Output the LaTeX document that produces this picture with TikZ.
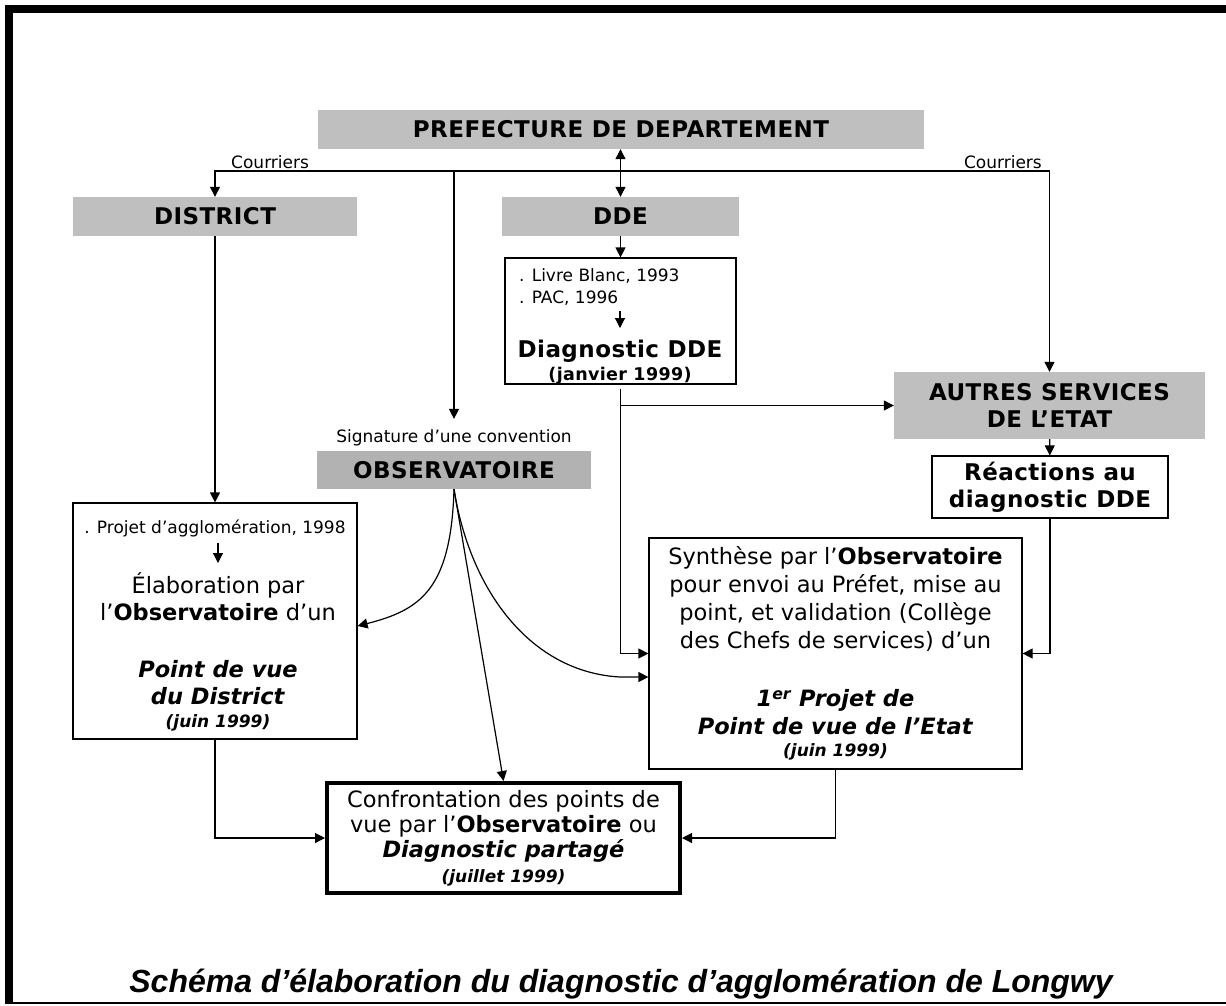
\documentclass[tikz,border=0pt]{standalone}
\usepackage{fontspec}
\setmainfont{DejaVu Sans}
\newfontfamily\headfont{DejaVu Sans}[LetterSpace=2]
\newfontfamily\titlefont{Liberation Sans}
\usetikzlibrary{arrows.meta}
\newcommand{\boxcolor}{gray!50}
\newcommand{\obscolor}{gray!60}
\newcommand{\thickness}{1.2pt}
\tikzset{
  arr/.style={-{Triangle[length=10pt,width=10pt]}, line width=\thickness},
  darr/.style={{Triangle[length=10pt,width=10pt]}-{Triangle[length=10pt,width=10pt]}, line width=\thickness},
  headbox/.style={fill=\boxcolor, inner sep=0pt, align=center, font=\headfont\fontsize{23}{27}\selectfont\bfseries},
  textbox/.style={draw, line width=\thickness, inner sep=0pt, align=center},
  smalltext/.style={inner sep=0pt, font=\fontsize{17}{22}\selectfont}
}

\begin{document}
\begin{tikzpicture}[x=1pt, y=-1pt]
\useasboundingbox (0,0) rectangle (1226,1005);
% cadre
\fill (5,5) rectangle (1226,13);
\fill (5,5) rectangle (13,1004);
\draw[line width=2pt] (5,1003) -- (1226,1003);
% en-tetes
\node[headbox] (pref) at (621, 129.5) [minimum width=606pt, minimum height=39pt] {PREFECTURE DE DEPARTEMENT};
\node[headbox] (district) at (215, 216.5) [minimum width=284pt, minimum height=39pt] {DISTRICT};
\node[headbox] (dde) at (620.5, 216.5) [minimum width=237pt, minimum height=39pt] {DDE};
\node[headbox, fill=\obscolor] (obs) at (454, 470) [minimum width=274pt, minimum height=38pt] {OBSERVATOIRE};
\node[headbox] (autres) at (1049.5, 405.5) [minimum width=311pt, minimum height=67pt] {AUTRES SERVICES\\DE L’ETAT};
\node[smalltext, anchor=base west] (courg) at (231, 168) {Courriers};
\node[smalltext, anchor=base east] (courd) at (1042, 168) {Courriers};
\node[smalltext, anchor=base] (sig) at (454, 442) {Signature d’une convention};
% DDE
\node[textbox] (livre) at (620.5, 321) [minimum width=231pt, minimum height=126pt] {};
\node[smalltext, anchor=north west, align=left] (livrelist) at (519, 268) {. Livre Blanc, 1993\\. PAC, 1996};
\node[inner sep=0pt, anchor=north, align=center, font=\headfont\fontsize{23}{23}\selectfont\bfseries] (diagdde) at (620, 340) {Diagnostic DDE\\{\fontsize{17.5}{23}\selectfont (janvier 1999)}};
\node[textbox, font=\headfont\fontsize{23}{27}\selectfont\bfseries] (reac) at (1050, 487) [minimum width=236pt, minimum height=62pt] {Réactions au\\diagnostic DDE};
% District
\node[textbox] (projet) at (215, 621) [minimum width=284pt, minimum height=236pt] {};
\node[smalltext, anchor=base] (projlist) at (215, 533) {. Projet d’agglomération, 1998};
\node[inner sep=0pt, anchor=north, align=center, font=\fontsize{22.5}{27}\selectfont] (projtext) at (218, 572) {Élaboration par\\l’\textbf{Observatoire} d’un\\[30pt]\textbf{\itshape Point de vue}\\\textbf{\itshape du District}\\[-4pt]{\fontsize{17}{27}\selectfont\bfseries\itshape (juin 1999)}};
% Etat
\node[textbox, font=\fontsize{22.5}{28}\selectfont] (synth) at (835.5, 653.5) [minimum width=373pt, minimum height=231pt] {Synthèse par l’\textbf{Observatoire}\\pour envoi au Préfet, mise au\\point, et validation (Collège\\des Chefs de services) d’un\\[30pt]\textbf{\itshape 1\textsuperscript{er} Projet de}\\\textbf{\itshape Point de vue de l’Etat}\\[-6pt]{\fontsize{17}{28}\selectfont\bfseries\itshape (juin 1999)}};
% confrontation
\node[textbox, line width=4pt, font=\fontsize{22.5}{25}\selectfont] (conf) at (503.5, 838) [minimum width=353pt, minimum height=110pt] {Confrontation des points de\\vue par l’\textbf{Observatoire} ou\\\textbf{\itshape Diagnostic partagé}\\{\fontsize{17}{25}\selectfont\bfseries\itshape (juillet 1999)}};
\node[inner sep=0pt, anchor=base, font=\titlefont\fontsize{32}{36}\selectfont\bfseries\itshape] (titre) at (621, 992) {Schéma d’élaboration du diagnostic d’agglomération de Longwy};
% liaisons
\coordinate (hub) at (620.5, 171);
\draw[arr] (hub) -| (district.north);
\draw[arr] (hub) -| (autres.north);
\draw[arr, shorten >=10pt] (hub -| obs.north) -- (sig.north);
\draw[darr] (pref.south -| dde.north) -- (dde.north);
\draw[arr] (dde) -- (livre);
\draw[arr, shorten <=6pt, shorten >=12pt] (livrelist.south -| diagdde.north) -- (diagdde.north);
\draw[arr] ([yshift=-4pt]livre.south) |- (synth.west);
\draw[arr] (livre.south |- autres.west) -- (autres.west);
\draw[arr] (autres) -- (reac);
\draw[arr] (reac.south) |- (synth.east);
\draw[arr] (district) -- (projet);
\draw[arr, shorten <=6pt, shorten >=9pt] (projlist.south -| projtext.north) -- (projtext.north);
\draw[arr] (obs.south) .. controls (451,590) and (420,610) .. ([yshift=-5pt]projet.east);
\draw[arr] (obs.south) -- (conf.north);
\draw[arr] (obs.south) .. controls (470,590) and (530,672) .. (620,677) -- ([yshift=-23.5pt]synth.west);
\draw[arr] (projet.south) |- (conf.west);
\draw[arr] (synth.south) |- (conf.east);
\end{tikzpicture}
\end{document}
